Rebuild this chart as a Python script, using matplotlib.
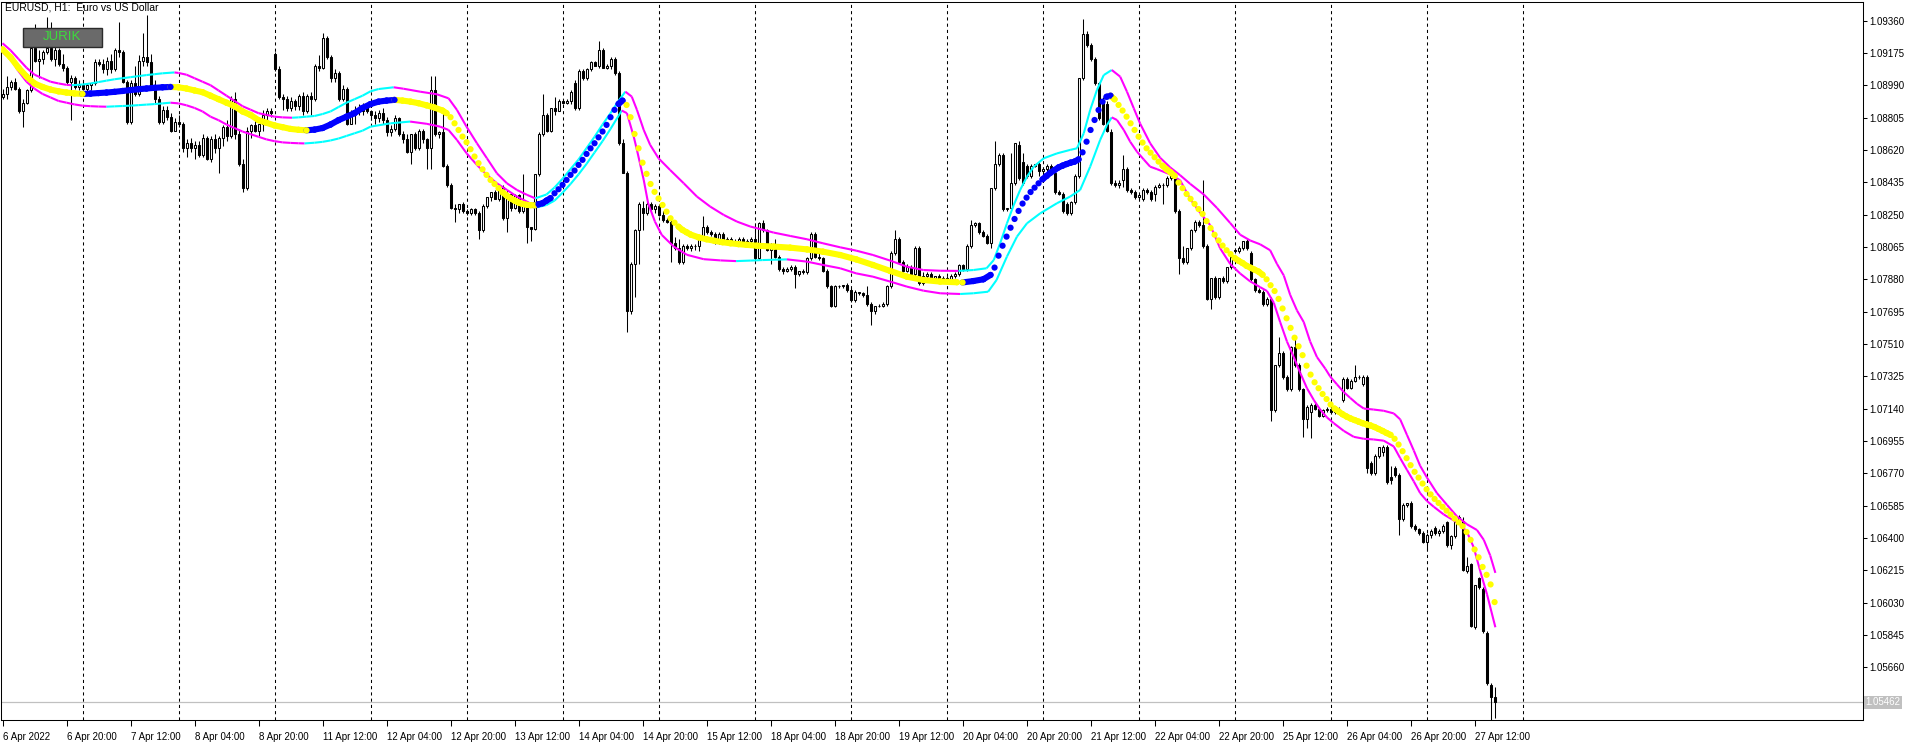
import matplotlib
matplotlib.use("Agg")
import matplotlib.pyplot as plt
from matplotlib.collections import LineCollection
from matplotlib.patches import Rectangle
import matplotlib.transforms as mtransforms
import numpy as np
import pandas as pd

plt.rcParams['font.family'] = ['Liberation Sans', 'DejaVu Sans']

# EURUSD H1 candles, prices in pips (10892 -> 1.0892), first bar 6 Apr 2022 04:00
PIP = 1e-4
first_bar = "2022-04-06 04:00"

open_ = [
    10892, 10894, 10898, 10901, 10897, 10884, 10889, 10896, 10920, 10913,
    10914, 10918, 10920, 10914, 10919, 10911, 10909, 10901, 10903, 10898,
    10899, 10897, 10899, 10900, 10912, 10911, 10908, 10913, 10908, 10919,
    10918, 10901, 10878, 10900, 10894, 10913, 10915, 10912, 10899, 10891,
    10878, 10885, 10881, 10873, 10878, 10877, 10863, 10866, 10863, 10865,
    10859, 10869, 10857, 10868, 10863, 10869, 10875, 10870, 10891, 10871,
    10854, 10840, 10873, 10876, 10873, 10877, 10882, 10884, 10917, 10908,
    10892, 10891, 10886, 10890, 10887, 10893, 10884, 10893, 10891, 10910,
    10909, 10926, 10915, 10903, 10906, 10891, 10897, 10877, 10883, 10885,
    10884, 10887, 10884, 10882, 10880, 10883, 10879, 10872, 10874, 10880,
    10871, 10868, 10861, 10871, 10863, 10873, 10868, 10863, 10896, 10871,
    10872, 10853, 10842, 10829, 10828, 10831, 10827, 10826, 10828, 10826,
    10816, 10830, 10835, 10838, 10834, 10841, 10823, 10837, 10829, 10836,
    10827, 10832, 10818, 10817, 10848, 10871, 10882, 10873, 10886, 10884,
    10890, 10889, 10890, 10900, 10886, 10907, 10903, 10908, 10912, 10910,
    10919, 10909, 10910, 10914, 10906, 10866, 10849, 10770, 10797, 10816,
    10829, 10826, 10831, 10828, 10830, 10825, 10822, 10821, 10809, 10806,
    10798, 10807, 10806, 10807, 10807, 10812, 10818, 10815, 10814, 10809,
    10814, 10809, 10811, 10809, 10810, 10811, 10808, 10810, 10811, 10800,
    10820, 10816, 10805, 10808, 10801, 10794, 10793, 10794, 10795, 10791,
    10793, 10792, 10800, 10814, 10801, 10800, 10793, 10784, 10773, 10784,
    10784, 10785, 10782, 10776, 10781, 10780, 10779, 10774, 10770, 10773,
    10773, 10774, 10784, 10803, 10811, 10798, 10793, 10795, 10791, 10806,
    10786, 10790, 10791, 10789, 10790, 10788, 10789, 10787, 10790, 10791,
    10796, 10794, 10807, 10819, 10820, 10815, 10813, 10809, 10840, 10854,
    10859, 10828, 10829, 10843, 10865, 10855, 10853, 10847, 10853, 10854,
    10850, 10851, 10853, 10849, 10838, 10837, 10831, 10826, 10832, 10847,
    10903, 10928, 10922, 10914, 10900, 10890, 10888, 10872, 10843, 10842,
    10845, 10851, 10839, 10838, 10835, 10834, 10839, 10838, 10837, 10841,
    10842, 10842, 10846, 10848, 10827, 10800, 10798, 10806, 10816, 10821,
    10819, 10807, 10777, 10789, 10778, 10789, 10787, 10795, 10805, 10804,
    10806, 10810, 10803, 10788, 10782, 10781, 10774, 10777, 10713, 10739,
    10746, 10732, 10725, 10749, 10739, 10725, 10708, 10712, 10716, 10714,
    10710, 10713, 10714, 10712, 10714, 10719, 10731, 10726, 10730, 10732,
    10728, 10732, 10683, 10677, 10687, 10689, 10692, 10675, 10680, 10676,
    10651, 10659, 10660, 10647, 10645, 10643, 10638, 10642, 10646, 10643,
    10644, 10649, 10636, 10641, 10649, 10650, 10621, 10625, 10589, 10617,
    10611, 10586, 10556, 10549,
]

high = [
    10897, 10904, 10902, 10903, 10898, 10891, 10897, 10921, 10934, 10919,
    10919, 10938, 10935, 10921, 10920, 10917, 10910, 10905, 10904, 10902,
    10901, 10900, 10900, 10914, 10914, 10914, 10915, 10917, 10920, 10935,
    10919, 10902, 10902, 10910, 10916, 10929, 10939, 10917, 10902, 10893,
    10887, 10887, 10883, 10880, 10882, 10878, 10868, 10869, 10867, 10867,
    10871, 10870, 10870, 10871, 10870, 10876, 10879, 10893, 10895, 10874,
    10857, 10875, 10877, 10880, 10877, 10885, 10886, 10886, 10918, 10910,
    10894, 10893, 10892, 10891, 10894, 10895, 10894, 10895, 10911, 10916,
    10929, 10927, 10916, 10908, 10907, 10899, 10898, 10885, 10887, 10888,
    10889, 10888, 10885, 10884, 10885, 10886, 10881, 10876, 10882, 10881,
    10873, 10871, 10871, 10872, 10874, 10874, 10869, 10904, 10904, 10873,
    10883, 10854, 10843, 10831, 10831, 10832, 10828, 10829, 10829, 10827,
    10831, 10835, 10838, 10839, 10841, 10842, 10839, 10838, 10837, 10837,
    10848, 10833, 10818, 10848, 10872, 10894, 10883, 10886, 10892, 10891,
    10891, 10891, 10896, 10902, 10908, 10908, 10909, 10913, 10913, 10924,
    10920, 10911, 10915, 10915, 10907, 10868, 10850, 10798, 10817, 10832,
    10833, 10832, 10832, 10831, 10831, 10827, 10823, 10822, 10812, 10811,
    10808, 10808, 10808, 10808, 10812, 10824, 10819, 10816, 10815, 10815,
    10815, 10812, 10812, 10811, 10812, 10812, 10811, 10812, 10820, 10821,
    10822, 10817, 10809, 10811, 10802, 10795, 10795, 10796, 10796, 10793,
    10794, 10801, 10815, 10815, 10805, 10801, 10794, 10785, 10785, 10785,
    10785, 10786, 10783, 10782, 10781, 10781, 10784, 10775, 10773, 10774,
    10775, 10785, 10804, 10816, 10812, 10799, 10797, 10796, 10807, 10807,
    10792, 10792, 10792, 10790, 10791, 10790, 10790, 10791, 10792, 10797,
    10797, 10808, 10822, 10821, 10821, 10816, 10814, 10840, 10867, 10860,
    10860, 10829, 10860, 10866, 10867, 10860, 10854, 10854, 10854, 10855,
    10852, 10854, 10854, 10850, 10839, 10838, 10832, 10833, 10848, 10903,
    10937, 10930, 10923, 10915, 10901, 10892, 10890, 10874, 10845, 10845,
    10859, 10852, 10840, 10839, 10837, 10840, 10840, 10839, 10842, 10843,
    10843, 10847, 10849, 10849, 10828, 10807, 10806, 10817, 10822, 10822,
    10845, 10808, 10789, 10790, 10789, 10790, 10795, 10801, 10806, 10807,
    10810, 10811, 10804, 10789, 10783, 10782, 10778, 10778, 10739, 10755,
    10747, 10733, 10750, 10754, 10740, 10726, 10716, 10717, 10717, 10715,
    10714, 10715, 10715, 10715, 10715, 10732, 10732, 10731, 10739, 10733,
    10733, 10733, 10684, 10688, 10692, 10693, 10693, 10681, 10681, 10677,
    10660, 10660, 10661, 10648, 10646, 10644, 10643, 10645, 10647, 10645,
    10648, 10650, 10642, 10650, 10653, 10652, 10629, 10626, 10613, 10618,
    10612, 10587, 10557, 10555,
]

low = [
    10891, 10891, 10896, 10896, 10883, 10875, 10888, 10895, 10912, 10903,
    10911, 10917, 10913, 10910, 10910, 10907, 10899, 10879, 10897, 10896,
    10896, 10895, 10896, 10899, 10910, 10906, 10905, 10906, 10907, 10915,
    10900, 10877, 10877, 10893, 10893, 10910, 10910, 10898, 10889, 10877,
    10877, 10879, 10872, 10873, 10875, 10861, 10858, 10861, 10857, 10858,
    10858, 10856, 10855, 10860, 10849, 10864, 10867, 10869, 10868, 10853,
    10838, 10839, 10869, 10872, 10870, 10873, 10878, 10881, 10907, 10891,
    10885, 10884, 10884, 10885, 10885, 10882, 10883, 10882, 10890, 10907,
    10908, 10914, 10901, 10901, 10890, 10890, 10876, 10877, 10877, 10882,
    10882, 10883, 10879, 10877, 10878, 10877, 10870, 10870, 10873, 10870,
    10866, 10860, 10854, 10862, 10862, 10866, 10851, 10851, 10870, 10869,
    10852, 10841, 10828, 10821, 10826, 10826, 10825, 10825, 10825, 10811,
    10815, 10829, 10833, 10834, 10833, 10822, 10815, 10827, 10828, 10826,
    10826, 10809, 10810, 10816, 10847, 10870, 10872, 10872, 10882, 10884,
    10888, 10888, 10888, 10885, 10885, 10902, 10902, 10907, 10910, 10909,
    10909, 10908, 10908, 10905, 10865, 10849, 10758, 10768, 10778, 10797,
    10816, 10825, 10827, 10826, 10824, 10821, 10820, 10798, 10805, 10797,
    10797, 10805, 10804, 10805, 10804, 10811, 10814, 10813, 10808, 10808,
    10808, 10808, 10808, 10808, 10808, 10807, 10807, 10807, 10799, 10799,
    10815, 10804, 10797, 10800, 10793, 10791, 10792, 10793, 10783, 10790,
    10791, 10791, 10799, 10800, 10799, 10792, 10783, 10772, 10772, 10783,
    10783, 10781, 10775, 10775, 10779, 10778, 10773, 10762, 10768, 10772,
    10772, 10773, 10783, 10802, 10797, 10792, 10792, 10790, 10790, 10785,
    10785, 10789, 10788, 10788, 10787, 10787, 10786, 10786, 10789, 10790,
    10793, 10793, 10806, 10818, 10814, 10812, 10808, 10806, 10839, 10853,
    10827, 10827, 10828, 10842, 10845, 10842, 10846, 10846, 10852, 10847,
    10848, 10849, 10848, 10837, 10836, 10826, 10825, 10825, 10831, 10846,
    10902, 10921, 10913, 10899, 10879, 10876, 10872, 10842, 10841, 10840,
    10841, 10838, 10837, 10834, 10834, 10833, 10837, 10833, 10833, 10840,
    10831, 10841, 10845, 10826, 10791, 10797, 10797, 10805, 10815, 10818,
    10806, 10776, 10771, 10777, 10777, 10786, 10786, 10794, 10803, 10803,
    10805, 10805, 10787, 10781, 10780, 10773, 10773, 10707, 10712, 10738,
    10731, 10724, 10724, 10738, 10724, 10698, 10703, 10697, 10713, 10709,
    10709, 10712, 10711, 10711, 10711, 10718, 10725, 10725, 10729, 10731,
    10727, 10677, 10676, 10676, 10686, 10687, 10671, 10671, 10675, 10642,
    10650, 10658, 10646, 10644, 10642, 10637, 10633, 10640, 10642, 10641,
    10643, 10635, 10634, 10640, 10648, 10621, 10620, 10589, 10588, 10611,
    10586, 10556, 10533, 10537,
]

close = [
    10894, 10898, 10901, 10897, 10884, 10889, 10896, 10920, 10913, 10914,
    10918, 10920, 10914, 10919, 10911, 10909, 10901, 10903, 10898, 10899,
    10897, 10899, 10900, 10912, 10911, 10908, 10913, 10908, 10919, 10918,
    10901, 10878, 10900, 10894, 10913, 10915, 10912, 10899, 10891, 10878,
    10885, 10881, 10873, 10878, 10877, 10863, 10866, 10863, 10865, 10859,
    10869, 10857, 10868, 10863, 10869, 10875, 10870, 10891, 10871, 10854,
    10840, 10873, 10876, 10873, 10877, 10882, 10884, 10883, 10908, 10892,
    10891, 10886, 10890, 10887, 10893, 10884, 10893, 10891, 10910, 10909,
    10926, 10915, 10903, 10906, 10891, 10897, 10877, 10883, 10885, 10884,
    10887, 10884, 10882, 10880, 10883, 10879, 10872, 10874, 10880, 10871,
    10868, 10861, 10871, 10863, 10873, 10868, 10863, 10896, 10871, 10872,
    10853, 10842, 10829, 10828, 10831, 10827, 10826, 10828, 10826, 10816,
    10830, 10835, 10838, 10834, 10841, 10823, 10837, 10829, 10836, 10827,
    10832, 10818, 10817, 10848, 10871, 10882, 10873, 10886, 10884, 10890,
    10889, 10890, 10895, 10886, 10907, 10903, 10908, 10912, 10910, 10919,
    10909, 10910, 10914, 10906, 10866, 10849, 10770, 10797, 10816, 10831,
    10826, 10831, 10828, 10830, 10825, 10822, 10821, 10809, 10806, 10798,
    10807, 10806, 10807, 10807, 10812, 10818, 10815, 10814, 10809, 10814,
    10809, 10811, 10809, 10810, 10811, 10808, 10810, 10811, 10800, 10820,
    10816, 10805, 10808, 10801, 10794, 10793, 10794, 10795, 10791, 10793,
    10792, 10800, 10814, 10801, 10800, 10793, 10784, 10773, 10784, 10784,
    10785, 10782, 10776, 10781, 10780, 10779, 10774, 10770, 10773, 10773,
    10774, 10784, 10803, 10811, 10798, 10793, 10795, 10791, 10806, 10786,
    10790, 10791, 10789, 10790, 10788, 10789, 10787, 10790, 10791, 10796,
    10794, 10807, 10819, 10820, 10815, 10813, 10809, 10840, 10854, 10859,
    10828, 10829, 10843, 10866, 10846, 10843, 10847, 10853, 10854, 10850,
    10851, 10853, 10849, 10838, 10837, 10827, 10826, 10832, 10847, 10903,
    10928, 10922, 10914, 10900, 10880, 10877, 10873, 10843, 10842, 10843,
    10851, 10839, 10838, 10835, 10836, 10839, 10838, 10834, 10841, 10842,
    10842, 10846, 10848, 10827, 10800, 10798, 10806, 10816, 10821, 10819,
    10807, 10777, 10789, 10778, 10789, 10787, 10795, 10801, 10804, 10806,
    10810, 10806, 10788, 10782, 10781, 10774, 10777, 10713, 10739, 10746,
    10732, 10725, 10749, 10739, 10725, 10708, 10715, 10716, 10714, 10710,
    10713, 10714, 10712, 10714, 10712, 10731, 10726, 10730, 10732, 10732,
    10732, 10680, 10677, 10687, 10692, 10692, 10672, 10673, 10676, 10651,
    10659, 10660, 10647, 10645, 10643, 10638, 10642, 10644, 10643, 10644,
    10647, 10636, 10641, 10649, 10652, 10622, 10624, 10590, 10613, 10612,
    10587, 10557, 10549, 10546.2,
]

# Jurik line (dots): bar position, value in pips
jma_bar = [
    0, 2, 4, 6, 8, 10, 12, 14, 16, 18, 20, 22, 24, 26, 28, 30, 32, 34, 36, 38,
    40, 42, 44, 46, 48, 50, 52, 54, 56, 58, 60, 62, 64, 66, 68, 70, 72, 74, 76, 78,
    80, 82, 84, 86, 88, 90, 92, 94, 96, 98, 100, 102, 104, 106, 108, 110,
    111, 112, 113, 114, 115, 116, 117, 118, 119, 120, 121, 122, 123, 124, 125,
    126, 127, 128, 129, 130, 131, 132, 133, 134, 135, 136, 137, 138, 139, 140,
    141, 142, 143, 144, 145, 146, 147, 148, 149, 150, 151, 152, 153, 154, 155,
    156, 157, 158, 159, 160, 161, 162, 163, 164, 165, 166, 167, 168, 169, 170,
    171, 172, 174, 176, 178, 180, 182, 184, 186,
    188.6, 192.8, 196.9, 201.1, 205.1, 209.4, 213.4, 217.6, 221.9, 226.1,
    230.2, 234.4, 238.6, 240, 242.7, 245.2, 247,
    248, 249, 250, 251, 252, 253, 254, 255, 256, 257, 258, 259, 260, 261, 262,
    263, 264, 265, 266, 267, 268, 269, 270, 271, 272, 273, 274, 275, 276, 277,
    278, 279, 280, 281, 282, 283, 284, 285, 286, 287, 288, 289, 290, 291, 292,
    293, 294, 295, 296, 297, 298, 299, 300, 301, 302, 303, 304, 305, 306, 307,
    308, 309, 310, 311, 312, 313, 314, 315, 316, 317, 318, 319, 320, 321, 322,
    323, 324, 325, 326, 327, 328, 329, 330, 331, 332, 333, 334, 335, 336, 337,
    338, 339, 340, 341, 342, 343, 344, 345, 346, 347, 348, 349, 350, 351, 352,
    353, 354, 355, 356, 357, 358, 359, 360, 361, 362, 363, 364, 365, 366, 367,
    368, 369, 370, 371, 372, 373,
]
jma_val = [
    10919.5, 10915, 10909, 10904, 10900, 10898, 10896.5, 10895.5, 10894.8, 10894.3,
    10894.0, 10894.2, 10894.5, 10894.8, 10895.2, 10895.7, 10896.2, 10896.7, 10897.1, 10897.5,
    10897.8, 10898.0, 10897.8, 10897.1, 10896, 10895, 10893, 10891, 10889, 10887,
    10884, 10882, 10879, 10877.5, 10876, 10875, 10874, 10873.5, 10873.2, 10873.6,
    10874.5, 10876.5, 10879, 10881, 10883, 10886, 10888.2, 10889.6, 10890.2, 10890.6,
    10890.2, 10889.6, 10888.7, 10887.5, 10886.2, 10884.5,
    10883, 10880.7, 10877.2, 10873.4, 10869.6, 10866.4, 10862.4, 10858.2, 10854.4, 10850.9,
    10847.7, 10844.8, 10842.5, 10840.1, 10837.8, 10835.9, 10834.3, 10833, 10831.9, 10831.1,
    10830.6, 10830.4, 10830.3, 10830.9, 10831.5, 10833, 10834.4, 10837.2, 10839.5, 10842,
    10844.8, 10847.7, 10850.2, 10853.4, 10856.3, 10859.7, 10862.9, 10865.8, 10869.2, 10872.5,
    10876.3, 10880.7, 10884.9, 10888.3, 10890.2, 10887.7, 10880.7, 10871.1, 10862.9, 10854.7,
    10848.3, 10842.5, 10838, 10834.2, 10830.5, 10826.7, 10822.9, 10820.4, 10818.1, 10816.2,
    10814.9, 10813.6, 10812, 10810.9, 10810, 10809.2, 10808.6, 10808.1, 10807.7,
    10807.2, 10806.7, 10806.1, 10805.1, 10803.8, 10801.9, 10799.4, 10796.2, 10792.8, 10789.5,
    10787.6, 10786.7, 10786.3, 10786.2, 10787, 10788, 10790.5,
    10794.7, 10801.5, 10807.2, 10812.4, 10817.5, 10822.5, 10827.1, 10831.3, 10834.7, 10837.9,
    10840.4, 10842.9, 10845.2, 10847.1, 10849, 10850.5, 10852, 10853, 10853.9, 10854.7,
    10855.3, 10856.6, 10860.6, 10866.7, 10873.4, 10879.1, 10884.8, 10889.6, 10892.4, 10893,
    10890.9, 10887.7, 10884.5, 10881, 10877.2, 10873.4, 10869.6, 10866.2, 10862.9, 10860.4,
    10857.8, 10855.3, 10853, 10850.9, 10849.2, 10847.1, 10843.3, 10840.1, 10836.8, 10834,
    10831.1, 10828.2, 10825.4, 10821.3, 10817.3, 10813.5, 10810.2, 10807.3, 10804.6, 10802.4,
    10800.2, 10798.6, 10797.3, 10795.7, 10794.6, 10793.5, 10792.4, 10790.6, 10788, 10784.6,
    10781.3, 10776.8, 10771.3, 10765.7, 10760.2, 10754.6, 10749.7, 10744.6, 10738.6, 10733.5,
    10729.1, 10725.7, 10722.4, 10719.5, 10716.4, 10714.1, 10712.4, 10710.8, 10709.5, 10708.4,
    10707.5, 10706.6, 10705.7, 10705, 10704.4, 10703.5, 10702.4, 10701.3, 10700.1, 10699,
    10696.8, 10693.5, 10689.7, 10685.7, 10681.7, 10677.9, 10674.6, 10671.2, 10667.9, 10665,
    10662.4, 10660.1, 10657.9, 10655.7, 10653.5, 10651.2, 10649, 10646.8, 10643.5, 10639,
    10633.5, 10629, 10623.5, 10619, 10613.5, 10603.4,
]

# upper band
up_bar = [
    0, 2, 4, 6, 8, 10, 12, 14, 16, 17.3, 20, 22, 24, 26, 28, 30, 32, 34, 36, 38,
    40, 43, 44, 46, 48, 50, 52, 54, 56, 58, 60, 62, 64, 66, 68, 70, 72.4, 74, 76, 78,
    80, 82, 84, 86, 88, 90, 92, 94, 97.8, 100.2, 104.4, 108.6, 111.5, 113.6, 116, 118.6,
    121.1, 123.6, 126.1, 128.6, 131.1, 133.2, 136, 138, 140, 142, 144, 146, 148, 150,
    152, 154, 155.7, 157.3, 158.6, 160.3, 161.9, 164, 166.9, 170.3, 173.6, 176.9, 180.3,
    183.6, 186.9, 188.6, 192.8, 196.9, 201.1, 205.1, 209.4, 213.4, 217.6, 221.9, 226.1,
    230.2, 234.4, 239, 242.7, 246, 247.8, 249.4, 251.1, 252.8, 254.4, 256.1, 257.8,
    260.3, 263.6, 266.9, 268.6, 270.3, 271.9, 273.6, 275.3, 277.3, 279.4, 281.1, 282.8,
    284.4, 286.9, 289.4, 291.9, 294.4, 296.9, 300.3, 303.6, 306.9, 309.4, 311.9, 314.4,
    316.9, 318.6, 320.3, 321.9, 323.6, 325.3, 326.9, 328.6, 330.7, 331.9, 333.6, 335.3,
    336.9, 338.6, 340.3, 342.8, 345.3, 347.8, 349.4, 351.1, 352.8, 354.4, 356.1, 358.6,
    361.1, 363.6, 366.1, 368.6, 370.3, 371.9, 373.2,
]
up_val = [
    10923, 10919, 10914, 10909, 10905, 10903, 10901, 10900, 10899.2, 10899.0,
    10899.4, 10900, 10900.8, 10901.6, 10902.4, 10903, 10903.6, 10904.2, 10904.8, 10905.3,
    10905.8, 10906.3, 10906.0, 10905, 10903, 10901, 10899, 10896, 10893, 10890,
    10887, 10885, 10883, 10882, 10881, 10880.6, 10880.4, 10880.6, 10881, 10881.4,
    10882.5, 10884, 10886.5, 10889, 10891, 10893, 10895.5, 10896.8, 10897.8, 10897,
    10895.3, 10893.8, 10891.5, 10884.9, 10875.3, 10865.8, 10857.2, 10848.6, 10842.9, 10839.1,
    10836.3, 10834.3, 10836.5, 10840.5, 10845.5, 10851, 10856.5, 10863, 10869.5, 10876.5,
    10883, 10890, 10895.3, 10892.5, 10884.9, 10873.4, 10864.9, 10857.2, 10850.5, 10842.9,
    10835.3, 10829.6, 10824.8, 10821, 10818.2, 10817.2, 10814.7, 10812.8, 10810.9, 10808.6,
    10806.3, 10804.4, 10801.9, 10798.7, 10795.2, 10793.3, 10792.9, 10792.8, 10793.3, 10794.3,
    10799, 10808.6, 10820, 10830.5, 10839.1, 10846.7, 10852.4, 10857.2, 10860, 10862,
    10862.9, 10871.5, 10884.8, 10896.3, 10904.8, 10907.7, 10903.9, 10895.3, 10885.8, 10877,
    10865.8, 10857.5, 10852, 10847.5, 10842.6, 10836.5, 10828.8, 10820.2, 10813.5, 10810.2,
    10808, 10804.6, 10796.8, 10790.2, 10779.1, 10770.2, 10763.5, 10752.4, 10743.5, 10736.8,
    10732.4, 10727.9, 10723.5, 10720.2, 10716.8, 10714.1, 10713.5, 10712.8, 10711.3, 10707.9,
    10699, 10690.1, 10681.3, 10674.6, 10665.7, 10659, 10652.4, 10647.9, 10644.6, 10639,
    10630.1, 10620.1,
]

# lower band
dn_bar = [
    0, 2, 4, 6, 8, 10, 12, 14, 16, 18, 20, 22, 24, 26, 28, 30, 32, 34, 36, 38,
    40, 42, 44, 46, 48, 50, 52, 54, 56, 58, 60, 62, 64, 66, 68, 70, 72, 74, 75.5, 78,
    80, 82, 84, 86, 88, 90, 92, 97, 101.9, 106.1, 109.4, 111.5, 113.6, 116, 118.6, 121.1,
    123.6, 126.1, 128.6, 131.1, 133.7, 136, 138, 140, 142, 144, 146, 148, 150, 152,
    154, 154.8, 156.1, 157.8, 158.6, 160.3, 161.4, 163.1, 164.8, 167.8, 171.1, 175.3,
    179.5, 183.4, 186.9, 190, 196.1, 201.1, 205.1, 209.4, 213.4, 217.6, 221.9, 226.1,
    230.2, 234.4, 239.4, 242.7, 246.4, 248.5, 251.1, 253.6, 256.1, 259.4, 263.6, 266.9,
    269.4, 271.9, 274.4, 276.1, 277.3, 278.6, 280.3, 281.9, 283.6, 285.3, 286.9, 288.6,
    291.9, 294.4, 296.9, 299.4, 301.9, 304.4, 306.9, 309.4, 311.9, 314.4, 316.1, 317.8,
    319.4, 321.1, 322.8, 324.4, 326.1, 327.8, 329.4, 331.1, 332.8, 335.3, 337.8, 340.3,
    342.8, 345.3, 347.8, 349.4, 351.1, 352.8, 354.4, 356.1, 357.8, 360.3, 362.8, 364.4,
    366.1, 367.8, 369.4, 371.1, 373.2,
]
dn_val = [
    10918, 10914, 10907, 10901, 10897, 10894, 10892, 10890, 10889, 10888,
    10887.3, 10887.0, 10886.8, 10886.7, 10886.9, 10887.1, 10887.3, 10887.6, 10887.9, 10888.2,
    10888.6, 10889.0, 10888.6, 10887.5, 10886, 10884, 10881, 10879, 10876.5, 10874.5,
    10872.5, 10871, 10869.5, 10868, 10867, 10866.3, 10866, 10865.8, 10865.7, 10866.1,
    10866.6, 10867.4, 10868.5, 10870, 10871.5, 10873, 10875.3, 10877.2, 10878.2, 10876.9,
    10875.3, 10873.4, 10867.7, 10860.1, 10853.4, 10847.7, 10842.9, 10839.1, 10835.3, 10832.4,
    10829.2, 10830.5, 10833, 10837.5, 10842.5, 10848, 10854, 10860.5, 10867, 10874,
    10881.5, 10884.5, 10883, 10869.6, 10862, 10844.8, 10831.5, 10821, 10813.4, 10806.7,
    10802, 10799.5, 10798.8, 10798.4, 10798.7, 10799.0, 10799.4, 10798.1, 10796.2, 10794.3,
    10791.4, 10789.5, 10786.7, 10783.8, 10781.5, 10780, 10779.6, 10780, 10780.9, 10787.6,
    10801, 10812.4, 10820, 10825.7, 10831.5, 10835.3, 10839.1, 10852.4, 10867.7, 10876.2,
    10880.6, 10879.1, 10873.4, 10866.7, 10861, 10856.5, 10852.4, 10851, 10848, 10844.6,
    10834, 10826, 10819, 10805.7, 10796.8, 10791.3, 10786.8, 10783.5, 10781.3, 10774.6,
    10763.5, 10752.4, 10743.5, 10734.6, 10725.7, 10719, 10713.5, 10709, 10705.7, 10701.3,
    10697.9, 10696.8, 10696.4, 10695.7, 10692.4, 10685.7, 10679, 10672.4, 10665.7, 10661.2,
    10657.9, 10653.5, 10650.1, 10647.9, 10643.5, 10634.6, 10621.2, 10607.9, 10589,
]

bid_price = 1.05462

# ---------------------------------------------------------------
W, H = 1916, 753
fig = plt.figure(figsize=(W / 100, H / 100), dpi=100)
fig.patch.set_facecolor('white')
# plot area in pixels: x 1..1863, y 2..720 from the top
ax = fig.add_axes([1 / W, (H - 720) / H, 1862 / W, 718 / H])
ax.set_facecolor('white')

n = len(close)
x = np.arange(n)
o = np.array(open_) * PIP
h = np.array(high) * PIP
l = np.array(low) * PIP
c = np.array(close) * PIP

ax.set_xlim(-0.375, 465.1)
ax.set_ylim(1.053597, 1.094658)

# bar times (weekends skipped) for the separators and the time scale
times = pd.date_range(first_bar, periods=24 * 30, freq="h")
times = times[times.dayofweek < 5]

# day separators, up to the start of the day after the last bar
for i in range(n + 24):
    if times[i].hour == 0:
        ax.axvline(i, color='black', lw=0.75, ls=(0, (3, 3)), zorder=1)
        if i >= n:
            break

ax.axhline(bid_price, color='#C0C0C0', lw=0.9, zorder=1)

# candles
ax.vlines(x, l, h, color='black', lw=0.75, zorder=2)
bull = c >= o
ax.bar(x, c - o, bottom=o, width=0.5,
       color=np.where(bull, 'white', 'black'), edgecolor='black',
       linewidth=0.75, zorder=3)


def slope_segments(bars, vals, up_col, dn_col):
    xs = np.array(bars, dtype=float)
    ys = np.array(vals) * PIP
    segs = [[(xs[i], ys[i]), (xs[i + 1], ys[i + 1])] for i in range(len(xs) - 1)]
    cols = np.where(np.diff(ys) > 0, up_col, dn_col)
    return xs, ys, segs, cols


# bands
for bars, vals in [(up_bar, up_val), (dn_bar, dn_val)]:
    _, _, segs, cols = slope_segments(bars, vals, '#00FFFF', '#FF00FF')
    ax.add_collection(LineCollection(segs, colors=cols, linewidths=1.5, zorder=4))

# Jurik dots: yellow while falling, blue while rising
jx, jy, segs, cols = slope_segments(jma_bar, jma_val, '#0000FF', '#FFFF00')
pix = ax.transData.transform(np.column_stack([jx, jy]))
step = np.hypot(np.diff(pix[:, 0]), np.diff(pix[:, 1]))
join = (np.diff(jx) > 1.5) | (step < 5.5)
ax.add_collection(LineCollection([s for s, j in zip(segs, join) if j],
                                 colors=cols[join], linewidths=4.4,
                                 capstyle='round', zorder=5))
dot_cols = np.concatenate([[cols[0]], cols])
ax.scatter(jx, jy, s=20, c=dot_cols, linewidths=0, zorder=6)

# price scale on the right
yticks = 1.05660 + 0.00185 * np.arange(21)
ax.set_yticks(yticks)
ax.set_yticklabels([f"{v:.5f}" for v in yticks])
ax.yaxis.tick_right()
ax.tick_params(axis='y', length=3, width=0.75, pad=1.5, labelsize=7, colors='black')

# time scale every 16 bars
tick_bars = list(range(0, n, 16))
tick_labels = []
for i in tick_bars:
    t = times[i]
    if i == 0:
        tick_labels.append(f"{t.day} {t:%b %Y}")
    else:
        tick_labels.append(f"{t.day} {t:%b %H:%M}")
ax.set_xticks(tick_bars)
ax.set_xticklabels(tick_labels, ha='left')
ax.tick_params(axis='x', length=4, width=0.75, pad=5, labelsize=7)

for sp in ax.spines.values():
    sp.set_color('black')
    sp.set_linewidth(0.75)

# last price tag
tr = mtransforms.blended_transform_factory(ax.transAxes, ax.transData)
ax.text(1.0015, bid_price, f"{bid_price:.5f}", transform=tr, ha='left', va='center',
        fontsize=7, color='white', zorder=10, clip_on=False,
        bbox=dict(boxstyle='square,pad=0.15', fc='#C0C0C0', ec='none'))

# header and the indicator button
fig.text(5 / W, 1 - 3 / H, "EURUSD, H1:  Euro vs US Dollar", ha='left', va='top',
         fontsize=7.5, color='black')
fig.add_artist(Rectangle((23 / W, 1 - 47 / H), 79 / W, 19 / H, transform=fig.transFigure,
                         facecolor='#6A6A6A', edgecolor='#2B2B2B', lw=1, zorder=20))
fig.text(62.5 / W, 1 - 37.5 / H, "JURIK", ha='center', va='center', fontsize=9.5,
         color='#3CDC3C', zorder=21)

fig.savefig("out.png", dpi=100, facecolor='white')
